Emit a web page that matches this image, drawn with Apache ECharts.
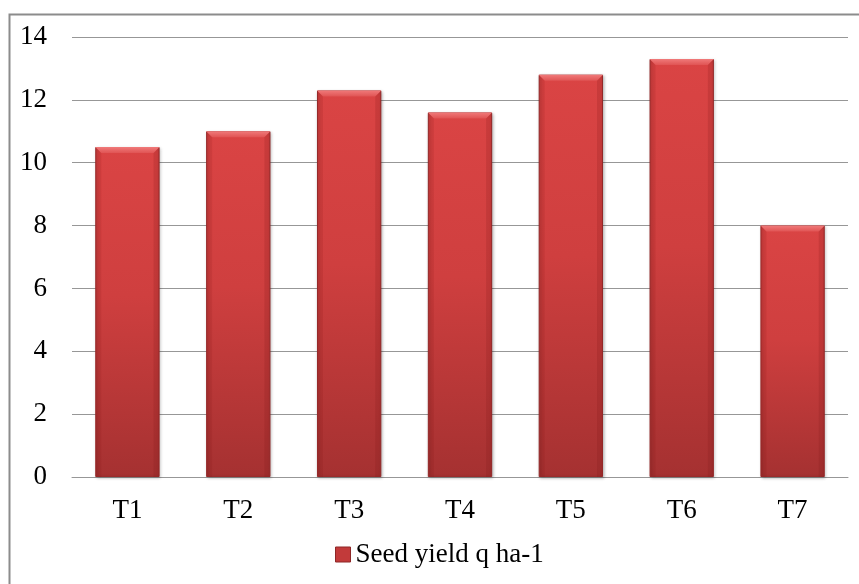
<!DOCTYPE html>
<html>
<head>
<meta charset="utf-8">
<script src="https://cdn.jsdelivr.net/npm/echarts@6/dist/echarts.min.js"></script>
<style>
  html, body { margin: 0; padding: 0; background: #fff; }
  #chart { width: 859px; height: 584px; }
</style>
</head>
<body>
<div id="chart"></div>
<script>
// Treatments and their seed yield (q/ha)
const categories = ['T1', 'T2', 'T3', 'T4', 'T5', 'T6', 'T7'];
const seedYield = [10.5, 11.0, 12.3, 11.6, 12.8, 13.3, 8.0];
const seriesName = 'Seed yield q ha-1';
const yMin = 0, yMax = 14, yStep = 2;

const font = 'Liberation Serif, Times New Roman, serif';
const barRatio = 0.58;   // bar width as a share of the category band
const bevel = 6;         // depth of the bevelled top edge, px

const barFill = new echarts.graphic.LinearGradient(0, 0, 0, 1, [
  { offset: 0, color: '#da4444' },
  { offset: 0.45, color: '#cf3f3f' },
  { offset: 1, color: '#a53131' }
]);

// Lighter bevel strip along each bar's top edge
function renderBevel(params, api) {
  const top = api.coord([api.value(0), api.value(1)]);
  const base = api.coord([api.value(0), 0]);
  const w = api.size([1, 0])[0] * barRatio;
  const l = top[0] - w / 2, r = top[0] + w / 2, t = top[1], b = base[1];
  return {
    type: 'group',
    children: [
      {
        type: 'polygon',
        shape: { points: [[l, t], [r, t], [r - bevel, t + bevel], [l + bevel, t + bevel]] },
        style: { fill: new echarts.graphic.LinearGradient(0, 0, 0, 1, [
          { offset: 0, color: '#f07a7a' }, { offset: 1, color: '#e05454' }
        ]) }
      },
      {
        type: 'polygon',
        shape: { points: [[l, t], [l + bevel, t + bevel], [l + bevel, b], [l, b]] },
        style: { fill: 'rgba(120,20,20,0.12)' }
      },
      {
        type: 'polygon',
        shape: { points: [[r, t], [r - bevel, t + bevel], [r - bevel, b], [r, b]] },
        style: { fill: 'rgba(120,20,20,0.18)' }
      }
    ]
  };
}

const chart = echarts.init(document.getElementById('chart'), null, { renderer: 'canvas' });
chart.setOption({
  animation: false,
  backgroundColor: '#fff',
  graphic: [{
    type: 'rect',
    left: 7, top: 12,
    shape: { width: 900, height: 700 },
    style: { fill: 'none', stroke: '#8c8c8c', lineWidth: 2 },
    silent: true, z: -1
  }],
  grid: { left: 72, right: 11, top: 37, bottom: 107, containLabel: false },
  legend: {
    data: [{ name: seriesName, itemStyle: { color: '#c23a3a', borderColor: '#8e2727', borderWidth: 1 } }],
    left: 330, top: 536,
    icon: 'rect', itemWidth: 15, itemHeight: 15,
    textStyle: { fontFamily: font, fontSize: 27, color: '#000' }
  },
  xAxis: {
    type: 'category',
    data: categories,
    axisLine: { show: true, lineStyle: { color: '#979797', width: 1 } },
    axisTick: { show: false },
    axisLabel: { fontFamily: font, fontSize: 27, color: '#000', margin: 20 }
  },
  yAxis: {
    type: 'value',
    min: yMin, max: yMax, interval: yStep,
    axisLine: { show: false },
    axisTick: { show: false },
    splitLine: { lineStyle: { color: '#979797', width: 1 } },
    axisLabel: { fontFamily: font, fontSize: 27, color: '#000', margin: 25 }
  },
  series: [
    {
      name: seriesName,
      type: 'bar',
      data: seedYield,
      barWidth: (barRatio * 100) + '%',
      itemStyle: {
        color: barFill,
        borderColor: '#9a2c2c',
        borderWidth: 1,
        shadowColor: 'rgba(0,0,0,0.25)',
        shadowBlur: 3,
        shadowOffsetX: 1,
        shadowOffsetY: 1
      }
    },
    {
      name: 'bevel',
      type: 'custom',
      data: seedYield.map((v, i) => [i, v]),
      renderItem: renderBevel,
      silent: true,
      z: 3
    }
  ]
});
</script>
</body>
</html>
